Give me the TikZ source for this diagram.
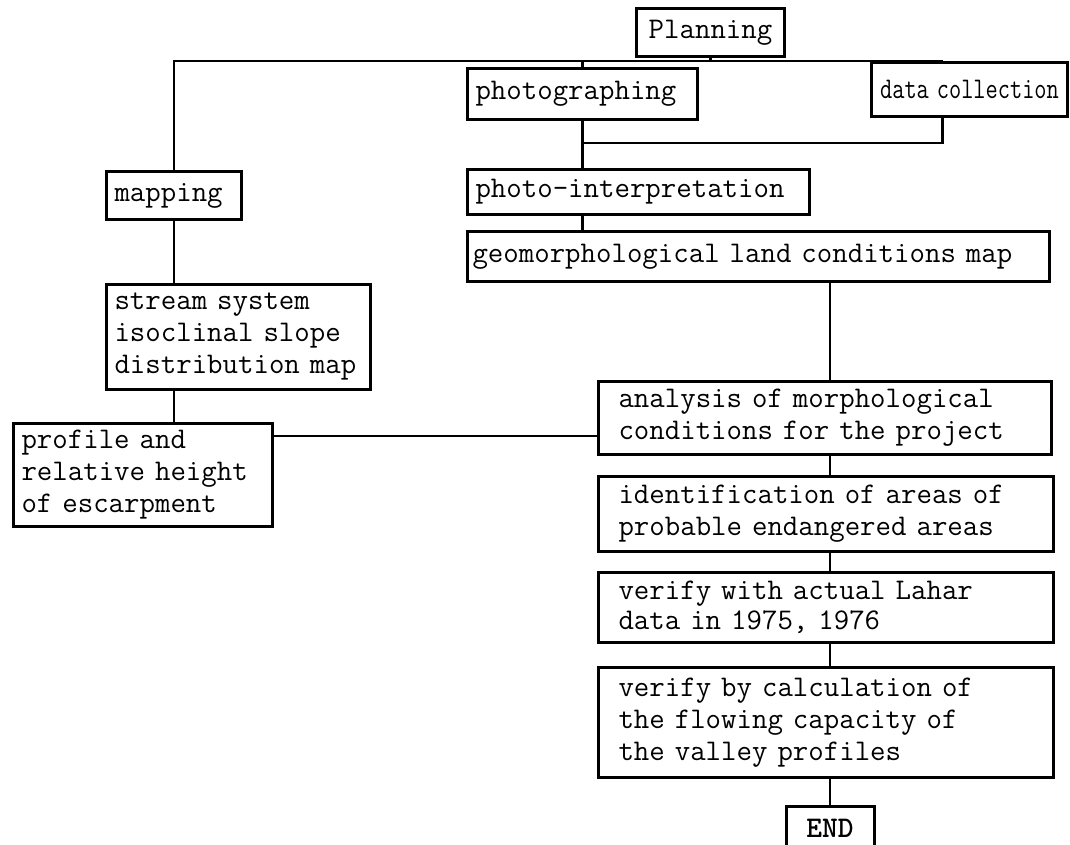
\documentclass[tikz,border=0pt]{standalone}
\usepackage{tikz}
\usetikzlibrary{positioning}
\tikzset{
    flowbox/.style={draw, line width=3pt, anchor=north west, inner xsep=8pt, inner ysep=0pt,
        font=\ttfamily\fontsize{30}{32}\selectfont, align=left},
    link/.style={line width=2.2pt},
}

\begin{document}
\begin{tikzpicture}[x=1pt, y=-1pt]
        \useasboundingbox (0,0) rectangle (1070,844);
        % top row
        \node [flowbox, align=center, text width=132pt, minimum height=48pt] (plan) at (635,7) {Planning};
        \node [flowbox, text width=214pt, minimum height=51pt] (photo) at (466,67) {photographing};
        \node [flowbox, inner xsep=4pt, align=center, text width=188pt, minimum height=54pt] (data) at (870,61) {\scalebox{0.79}[1]{data collection}};
        \node [flowbox, text width=326pt, minimum height=45pt, below=47pt of photo.south west, anchor=north west] (interp) {photo-interpretation};
        \node [flowbox, inner xsep=5pt, text width=572pt, minimum height=50pt, below=14pt of interp.south west, anchor=north west] (geo) {geomorphological land conditions map};
        % left column
        \node [flowbox, text width=119pt, minimum height=48pt] (mapping) at (105,170) {mapping};
        \node [flowbox, text width=248pt, minimum height=105pt, below=62pt of mapping.south west, anchor=north west] (stream) {stream system\\ isoclinal slope\\ distribution map};
        \node [flowbox, text width=243pt, minimum height=103pt] (profile) at (12,422) {profile and\\ relative height\\ of escarpment};
        % right column
        \node [flowbox, inner xsep=20pt, text width=413pt, minimum height=73pt] (analysis) at (597,380) {analysis of morphological\\ conditions for the project};
        \node [flowbox, inner xsep=20pt, text width=415pt, minimum height=75pt, below=19pt of analysis.south west, anchor=north west] (ident) {identification of areas of\\ probable endangered areas};
        \node [flowbox, inner xsep=20pt, text width=415pt, minimum height=70pt, below=18pt of ident.south west, anchor=north west] (verifylahar) {verify with actual Lahar\\[-2pt] data in 1975, 1976};
        \node [flowbox, inner xsep=20pt, text width=415pt, minimum height=110pt, below=22pt of verifylahar.south west, anchor=north west] (verifyflow) {verify by calculation of\\ the flowing capacity of\\ the valley profiles};
        \node [flowbox, align=center, font=\ttfamily\bfseries\fontsize{30}{32}\selectfont, text width=72pt, minimum height=44pt, below=26pt of verifyflow.south, anchor=north, xshift=4pt] (finish) {END};
        % connectors
        \coordinate [below=3pt of plan.south] (split);
        \coordinate [below=22pt of photo.south] (merge);
        \draw [link] (mapping.north) |- (split) -- (plan.south);
        \draw [link] (split) -| (photo.north);
        \draw [link] (split) -| ([xshift=-27pt]data.north);
        \draw [link] (photo.south) -- (merge) -- (interp.north -| merge);
        \draw [link] ([xshift=-27pt]data.south) |- (merge);
        \draw [link] (interp.south -| merge) -- (geo.north -| merge);
        \draw [link] (mapping.south) -- (mapping.south |- stream.north);
        \draw [link] (mapping.south |- stream.south) -- (mapping.south |- profile.north);
        \draw [link] (geo.south -| finish.north) -- (analysis.north -| finish.north);
        \draw [link] ([yshift=-18pt]analysis.west) -- ([yshift=-18pt]analysis.west -| profile.east);
        \draw [link] (analysis.south -| finish.north) -- (ident.north -| finish.north);
        \draw [link] (ident.south -| finish.north) -- (verifylahar.north -| finish.north);
        \draw [link] (verifylahar.south -| finish.north) -- (verifyflow.north -| finish.north);
        \draw [link] (verifyflow.south -| finish.north) -- (finish.north);
\end{tikzpicture}
\end{document}
